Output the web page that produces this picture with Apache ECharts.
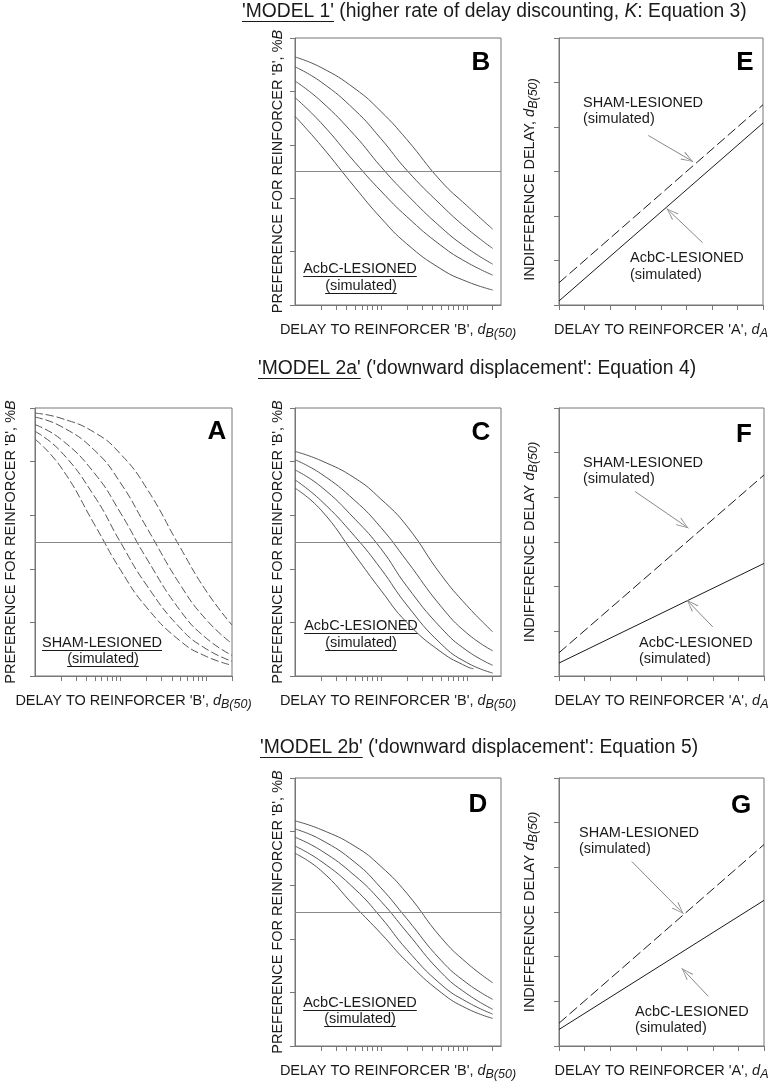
<!DOCTYPE html>
<html>
<head>
<meta charset="utf-8">
<script src="https://cdn.jsdelivr.net/npm/echarts@6/dist/echarts.min.js"></script>
<style>
  html, body { margin: 0; background: #fff; }
  #chart { width: 777px; height: 1084px; }
</style>
</head>
<body>
<div id="chart"></div>
<script>
const FONT = "'Liberation Sans', Arial, sans-serif";

// delays (log axis) at which the preference curves were read
const delays = [1, 2, 5, 10, 20, 50, 100, 200];
const delaysShort = [1, 2, 5, 10, 20, 50, 100, 120];
const logTicks = [2, 3, 4, 5, 6, 7, 8, 9, 10, 20, 30, 40, 50, 60, 70, 80, 90, 100, 200];

// %B preference, one row per curve (top to bottom)
const shamA = [
  [98.1, 96.2, 90.8, 82.8, 70.2, 47.8, 31.7, 19.0],
  [96.6, 93.2, 84.1, 72.0, 55.6, 33.9, 21.0, 12.1],
  [93.8, 88.4, 75.5, 60.8, 44.0, 24.3, 14.1, 7.7],
  [91.3, 83.8, 66.8, 49.8, 34.0, 17.8, 10.1, 5.5],
  [88.4, 78.0, 56.3, 39.5, 25.7, 13.0, 7.3, 4.0]
];
const lesionB = [
  [92.9, 89.0, 81.0, 72.5, 62.0, 46.4, 37.2, 28.4],
  [89.2, 83.6, 72.9, 62.3, 50.5, 37.5, 28.7, 21.2],
  [83.9, 76.4, 63.4, 51.8, 41.4, 29.1, 21.4, 15.3],
  [77.7, 68.3, 53.4, 42.7, 33.1, 22.3, 16.0, 11.2],
  [70.7, 59.8, 44.0, 32.6, 22.9, 13.5, 8.8, 5.6]
];
const lesionC = [
  [83.8, 80.4, 73.8, 66.0, 56.0, 37.8, 26.3, 16.5],
  [80.7, 75.5, 65.4, 55.4, 43.0, 26.0, 16.0, 9.4],
  [76.9, 70.7, 58.5, 47.5, 33.5, 18.0, 9.5, 4.0],
  [73.2, 65.5, 52.0, 40.0, 26.5, 12.0, 5.0, 1.1],
  [70.1, 62.0, 45.0, 32.0, 20.0, 9.0, 3.5, 2.7]
];
const lesionD = [
  [84.0, 80.8, 74.5, 67.0, 57.0, 40.5, 31.0, 23.6],
  [81.0, 77.0, 68.5, 59.0, 47.5, 32.0, 23.5, 17.4],
  [77.9, 73.0, 63.5, 54.0, 42.5, 27.5, 19.5, 13.7],
  [74.6, 69.0, 58.5, 48.0, 36.0, 23.0, 16.5, 11.9],
  [71.9, 65.5, 52.0, 42.0, 31.5, 20.0, 14.0, 10.3]
];

// indifference lines, d_A 0..8
const delayA = [0, 8];
const shamE = [0.5, 4.5];
const lesionE = [0.09, 4.09];
const shamF = [0.52, 4.5];
const lesionF = [0.29, 2.52];
const shamG = [0.51, 4.51];
const lesionG = [0.37, 3.26];

// arrows [from, to] in data units
const arrowsE = [[[3.50, 3.81], [5.26, 3.22]], [[5.63, 1.40], [4.22, 2.17]]];
const arrowsF = [[[2.97, 4.13], [5.05, 3.31]], [[6.00, 1.10], [4.99, 1.70]]];
const arrowsG = [[[2.84, 4.13], [4.86, 2.96]], [[5.83, 1.11], [4.79, 1.74]]];

const panels = [
  { id: 'A', left: 35, top: 408, width: 197, height: 268, kind: 'curve', xmax: 200, nameGap: 17 },
  { id: 'B', left: 295, top: 38, width: 206, height: 267, kind: 'curve', xmax: 250, nameGap: 10 },
  { id: 'C', left: 295, top: 408, width: 206, height: 268, kind: 'curve', xmax: 250, nameGap: 10 },
  { id: 'D', left: 295, top: 778, width: 206, height: 268, kind: 'curve', xmax: 250, nameGap: 10 },
  { id: 'E', left: 559, top: 38, width: 204, height: 267, kind: 'line', yName: 'INDIFFERENCE DELAY, {i|d}{sub|B(50)}', namePad: [0, 16, 0, 0] },
  { id: 'F', left: 559, top: 408, width: 205, height: 268, kind: 'line', yName: 'INDIFFERENCE DELAY {i|d}{sub|B(50)}' },
  { id: 'G', left: 559, top: 778, width: 205, height: 268, kind: 'line', yName: 'INDIFFERENCE DELAY {i|d}{sub|B(50)}' }
];

const ink = '#1a1a1a';
const frame = '#777';
const rich = {
  i: { fontStyle: 'italic', fontSize: 14.5, fontFamily: FONT, color: ink },
  sub: { fontStyle: 'italic', fontSize: 12.5, fontFamily: FONT, color: ink, padding: [7, 0, 0, 0] }
};
const nameStyle = { fontSize: 14.5, fontFamily: FONT, color: ink, rich };
const tick = { show: true, length: 5, lineStyle: { color: frame } };

// open V arrow head, tip at the centre of a square box (corner specks only widen the box)
const chevron = 'path://M-12,-12L-11.99,-12L-12,-11.99Z M12,12L11.99,12L12,11.99Z ' +
  'M0,0L4.5,12L3.4,12L0,1.6L-3.4,12L-4.5,12Z';

const halfLine = {
  silent: true, symbol: 'none', animation: false,
  label: { show: false },
  lineStyle: { color: '#888', width: 1, type: 'solid' },
  data: [{ yAxis: 50 }]
};
const arrowMark = arrows => ({
  silent: true, animation: false,
  symbol: ['none', chevron], symbolSize: 24,
  label: { show: false },
  itemStyle: { color: '#888' },
  lineStyle: { color: '#888', width: 1, type: 'solid' },
  data: arrows.map(([a, b]) => [{ coord: a }, { coord: b }])
});

const grid = [], xAxis = [], yAxis = [], series = [];
panels.forEach((p, idx) => {
  grid.push({ left: p.left, top: p.top, width: p.width, height: p.height, show: true, borderColor: frame, borderWidth: 1 });
  if (p.kind === 'curve') {
    xAxis.push({
      gridIndex: idx, type: 'log', logBase: 10, min: 1, max: p.xmax,
      axisLine: { show: true, lineStyle: { color: frame } },
      axisTick: { ...tick, customValues: logTicks },
      axisLabel: { show: false }, splitLine: { show: false },
      name: "DELAY TO REINFORCER 'B', {i|d}{sub|B(50)}", nameLocation: 'middle', nameGap: 15, nameTextStyle: nameStyle
    });
    yAxis.push({
      gridIndex: idx, type: 'value', min: 0, max: 100, interval: 20,
      axisLine: { show: true, lineStyle: { color: frame } }, axisTick: tick,
      axisLabel: { show: false }, splitLine: { show: false },
      name: "PREFERENCE FOR REINFORCER 'B', %{i|B}", nameLocation: 'middle', nameRotate: 90, nameGap: p.nameGap, nameTextStyle: nameStyle
    });
  } else {
    xAxis.push({
      gridIndex: idx, type: 'value', min: 0, max: 8, interval: 1,
      axisLine: { show: true, lineStyle: { color: frame } }, axisTick: tick,
      axisLabel: { show: false }, splitLine: { show: false },
      name: "DELAY TO REINFORCER 'A', {i|d}{sub|A}", nameLocation: 'middle', nameGap: 15, nameTextStyle: nameStyle
    });
    yAxis.push({
      gridIndex: idx, type: 'value', min: 0, max: 6, interval: 1,
      axisLine: { show: true, lineStyle: { color: frame } }, axisTick: tick,
      axisLabel: { show: false }, splitLine: { show: false },
      name: p.yName, nameLocation: 'middle', nameRotate: 90, nameGap: 19,
      nameTextStyle: p.namePad ? { ...nameStyle, padding: p.namePad } : nameStyle
    });
  }
});

function curves(idx, rows, dashed) {
  rows.forEach((vals, k) => {
    const xs = (idx === 2 && k === 4) ? delaysShort : delays;
    series.push({
      type: 'line', xAxisIndex: idx, yAxisIndex: idx, smooth: true, showSymbol: false, silent: true,
      data: vals.map((v, i) => [xs[i], v]),
      lineStyle: { color: '#555', width: 1, type: dashed ? [8, 3] : 'solid' },
      markLine: k === 0 ? halfLine : undefined
    });
  });
}
curves(0, shamA, true);
curves(1, lesionB, false);
curves(2, lesionC, false);
curves(3, lesionD, false);

function lines(idx, sham, lesion, arrows) {
  series.push({
    type: 'line', xAxisIndex: idx, yAxisIndex: idx, showSymbol: false, silent: true,
    data: delayA.map((x, i) => [x, sham[i]]),
    lineStyle: { color: ink, width: 1, type: [10, 4] },
    markLine: arrowMark(arrows)
  });
  series.push({
    type: 'line', xAxisIndex: idx, yAxisIndex: idx, showSymbol: false, silent: true,
    data: delayA.map((x, i) => [x, lesion[i]]),
    lineStyle: { color: ink, width: 1 }
  });
}
lines(4, shamE, lesionE, arrowsE);
lines(5, shamF, lesionF, arrowsF);
lines(6, shamG, lesionG, arrowsG);

// text runs (with underline / italic parts) laid out with canvas metrics
const meas = document.createElement('canvas').getContext('2d');
function textRun(parts, x, y, size, center) {
  const fonts = parts.map(p => (p.i ? 'italic ' : '') + size + 'px ' + FONT);
  const widths = parts.map((p, k) => { meas.font = fonts[k]; return meas.measureText(p.t).width; });
  let cx = center ? x - widths.reduce((a, b) => a + b, 0) / 2 : x;
  const out = [];
  parts.forEach((p, k) => {
    out.push({ type: 'text', x: cx, y, silent: true,
      style: { text: p.t, font: fonts[k], fill: ink, textAlign: 'left', textVerticalAlign: 'middle' } });
    if (p.u) {
      const uy = Math.round(y + size * 0.45) + 0.5;
      out.push({ type: 'line', silent: true, shape: { x1: cx, y1: uy, x2: cx + widths[k], y2: uy },
        style: { stroke: ink, lineWidth: 1 } });
    }
    cx += widths[k];
  });
  return out;
}
const letter = (t, x, y) => ({ type: 'text', x, y, silent: true,
  style: { text: t, font: 'bold 26px ' + FONT, fill: '#000', textAlign: 'center', textVerticalAlign: 'middle' } });

const graphic = [].concat(
  textRun([{ t: "'MODEL 1'", u: 1 }, { t: ' (higher rate of delay discounting, ' }, { t: 'K', i: 1 }, { t: ': Equation 3)' }], 242, 12, 19.3),
  textRun([{ t: "'MODEL 2a'", u: 1 }, { t: " ('downward displacement': Equation 4)" }], 258, 369, 19.3),
  textRun([{ t: "'MODEL 2b'", u: 1 }, { t: " ('downward displacement': Equation 5)" }], 260, 748, 19.3),
  textRun([{ t: 'SHAM-LESIONED', u: 1 }], 102, 643, 14.5, true),
  textRun([{ t: '(simulated)', u: 1 }], 103, 659, 14.5, true),
  textRun([{ t: 'AcbC-LESIONED', u: 1 }], 360, 269, 14.5, true),
  textRun([{ t: '(simulated)', u: 1 }], 361, 286, 14.5, true),
  textRun([{ t: 'AcbC-LESIONED', u: 1 }], 361, 626, 14.5, true),
  textRun([{ t: '(simulated)', u: 1 }], 361, 643, 14.5, true),
  textRun([{ t: 'AcbC-LESIONED', u: 1 }], 360, 1003, 14.5, true),
  textRun([{ t: '(simulated)', u: 1 }], 360, 1019, 14.5, true),
  textRun([{ t: 'SHAM-LESIONED' }], 583, 103, 14.5),
  textRun([{ t: '(simulated)' }], 583, 119, 14.5),
  textRun([{ t: 'AcbC-LESIONED' }], 630, 258, 14.5),
  textRun([{ t: '(simulated)' }], 630, 275, 14.5),
  textRun([{ t: 'SHAM-LESIONED' }], 583, 463, 14.5),
  textRun([{ t: '(simulated)' }], 583, 479, 14.5),
  textRun([{ t: 'AcbC-LESIONED' }], 639, 643, 14.5),
  textRun([{ t: '(simulated)' }], 639, 659, 14.5),
  textRun([{ t: 'SHAM-LESIONED' }], 579, 833, 14.5),
  textRun([{ t: '(simulated)' }], 579, 849, 14.5),
  textRun([{ t: 'AcbC-LESIONED' }], 635, 1012, 14.5),
  textRun([{ t: '(simulated)' }], 635, 1028, 14.5),
  [letter('A', 217, 432), letter('B', 481, 63), letter('C', 481, 433), letter('D', 478, 805),
   letter('E', 745, 63), letter('F', 744, 435), letter('G', 741, 806)]
);

const chart = echarts.init(document.getElementById('chart'));
chart.setOption({
  backgroundColor: '#fff',
  animation: false,
  grid, xAxis, yAxis, series, graphic
});
</script>
</body>
</html>
